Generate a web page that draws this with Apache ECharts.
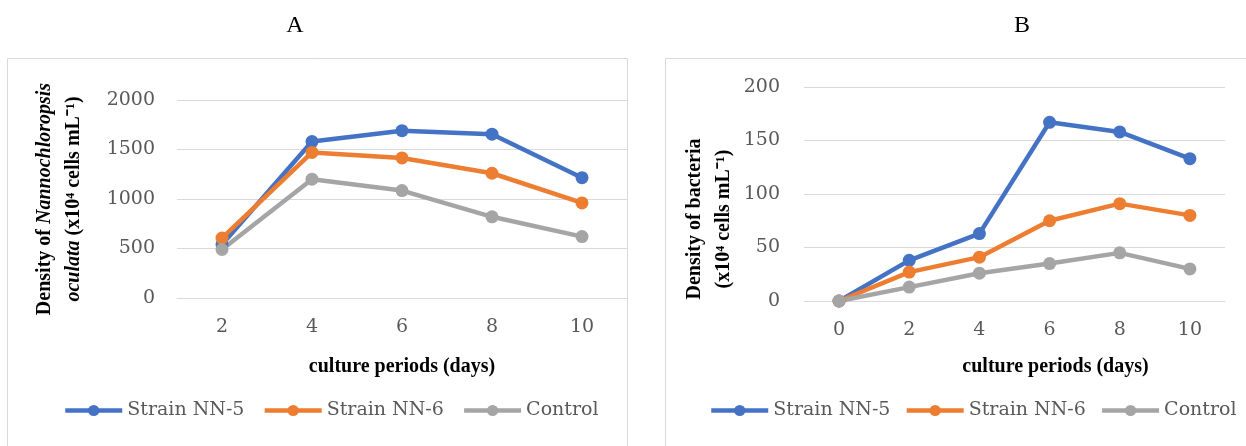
<!DOCTYPE html>
<html>
<head>
<meta charset="utf-8">
<script src="https://cdn.jsdelivr.net/npm/echarts@6/dist/echarts.min.js"></script>
<style>html,body{margin:0;padding:0;background:#fff;}#c{width:1246px;height:446px;}</style>
</head>
<body>
<div id="c"></div>
<script>
const daysA = ['2', '4', '6', '8', '10'];
const nn5A = [540, 1580, 1690, 1655, 1215];
const nn6A = [605, 1470, 1415, 1260, 960];
const ctrlA = [490, 1200, 1085, 820, 620];

const daysB = ['0', '2', '4', '6', '8', '10'];
const nn5B = [0, 38, 63, 167, 158, 133];
const nn6B = [0, 27, 41, 75, 91, 80];
const ctrlB = [0, 13, 26, 35, 45, 30];

const seriesNames = ['Strain NN-5', 'Strain NN-6', 'Control'];
const colors = ['#4472C4', '#ED7D31', '#A5A5A5'];

const chart = echarts.init(document.getElementById('c'));
const tickFont = { fontFamily: 'DejaVu Serif', fontSize: 19, color: '#595959', formatter: function (v) { return String(v); } };
const nameRich = {
  b: { fontFamily: 'Liberation Serif', fontWeight: 'bold', fontSize: 20, color: '#000', lineHeight: 29 },
  bi: { fontFamily: 'Liberation Serif', fontWeight: 'bold', fontStyle: 'italic', fontSize: 20, color: '#000', lineHeight: 29 }
};
function mkSeries(name, data, idx, color) {
  return {
    name: name, type: 'line', data: data, xAxisIndex: idx, yAxisIndex: idx,
    symbol: 'circle', symbolSize: 13,
    lineStyle: { width: 4.5, color: color },
    itemStyle: { color: color },
    emphasis: { disabled: true }, animation: false
  };
}
const legendBase = {
  data: seriesNames, itemWidth: 57, itemHeight: 14, width: 600, orient: 'horizontal', padding: 0,
  lineStyle: { width: 4.5 },
  textStyle: { fontFamily: 'DejaVu Serif', fontSize: 19, color: '#595959' }
};
chart.setOption({
  animation: false,
  color: colors,
  title: [
    { text: 'A', left: 290, top: 9, textAlign: 'center', textStyle: { fontFamily: 'Liberation Serif', fontWeight: 'normal', fontSize: 24, color: '#000' } },
    { text: 'B', left: 1017, top: 9, textAlign: 'center', textStyle: { fontFamily: 'Liberation Serif', fontWeight: 'normal', fontSize: 24, color: '#000' } }
  ],
  graphic: [
    { type: 'rect', shape: { x: 7.5, y: 58.5, width: 620, height: 400 }, style: { fill: 'none', stroke: '#d9d9d9', lineWidth: 1 }, silent: true },
    { type: 'rect', shape: { x: 665.5, y: 58.5, width: 600, height: 400 }, style: { fill: 'none', stroke: '#d9d9d9', lineWidth: 1 }, silent: true }
  ],
  legend: [
    Object.assign({ left: 63, top: 401, itemGap: 18 }, legendBase),
    Object.assign({ left: 709, top: 401, itemGap: 14 }, legendBase)
  ],
  grid: [
    { left: 177, right: 619, top: 100, bottom: 148 },
    { left: 804, right: 21, top: 87, bottom: 145 }
  ],
  xAxis: [
    { type: 'category', gridIndex: 0, data: daysA, boundaryGap: true,
      axisLine: { lineStyle: { color: '#d9d9d9' } }, axisTick: { show: false },
      axisLabel: Object.assign({ margin: 20 }, tickFont),
      name: 'culture periods (days)', nameLocation: 'middle', nameGap: 59,
      nameTextStyle: { fontFamily: 'Liberation Serif', fontWeight: 'bold', fontSize: 20, color: '#000' } },
    { type: 'category', gridIndex: 1, data: daysB, boundaryGap: true,
      axisLine: { lineStyle: { color: '#d9d9d9' } }, axisTick: { show: false },
      axisLabel: Object.assign({ margin: 20 }, tickFont),
      name: 'culture periods (days)', nameLocation: 'middle', nameGap: 56,
      nameTextStyle: { fontFamily: 'Liberation Serif', fontWeight: 'bold', fontSize: 20, color: '#000', padding: [0, 0, 0, 82] } }
  ],
  yAxis: [
    { type: 'value', gridIndex: 0, min: 0, max: 2000, interval: 500,
      axisLine: { show: false }, axisTick: { show: false },
      splitLine: { lineStyle: { color: '#d9d9d9' } },
      axisLabel: Object.assign({ margin: 22 }, tickFont),
      name: '{b|Density of }{bi|Nannochloropsis}\n{bi|oculata}{b| (x10⁴ cells mL⁻¹)}',
      nameLocation: 'middle', nameRotate: 90, nameGap: 89,
      nameTextStyle: { rich: nameRich, align: 'center' } },
    { type: 'value', gridIndex: 1, min: 0, max: 200, interval: 50,
      axisLine: { show: false }, axisTick: { show: false },
      splitLine: { lineStyle: { color: '#d9d9d9' } },
      axisLabel: Object.assign({ margin: 24 }, tickFont),
      name: '{b|Density of bacteria}\n{b|(x10⁴ cells mL⁻¹)}',
      nameLocation: 'middle', nameRotate: 90, nameGap: 66,
      nameTextStyle: { rich: nameRich, align: 'center', padding: [0, 50, 0, 0] } }
  ],
  series: [
    mkSeries(seriesNames[0], nn5A, 0, colors[0]),
    mkSeries(seriesNames[1], nn6A, 0, colors[1]),
    mkSeries(seriesNames[2], ctrlA, 0, colors[2]),
    mkSeries(seriesNames[0], nn5B, 1, colors[0]),
    mkSeries(seriesNames[1], nn6B, 1, colors[1]),
    mkSeries(seriesNames[2], ctrlB, 1, colors[2])
  ]
});
</script>
</body>
</html>
